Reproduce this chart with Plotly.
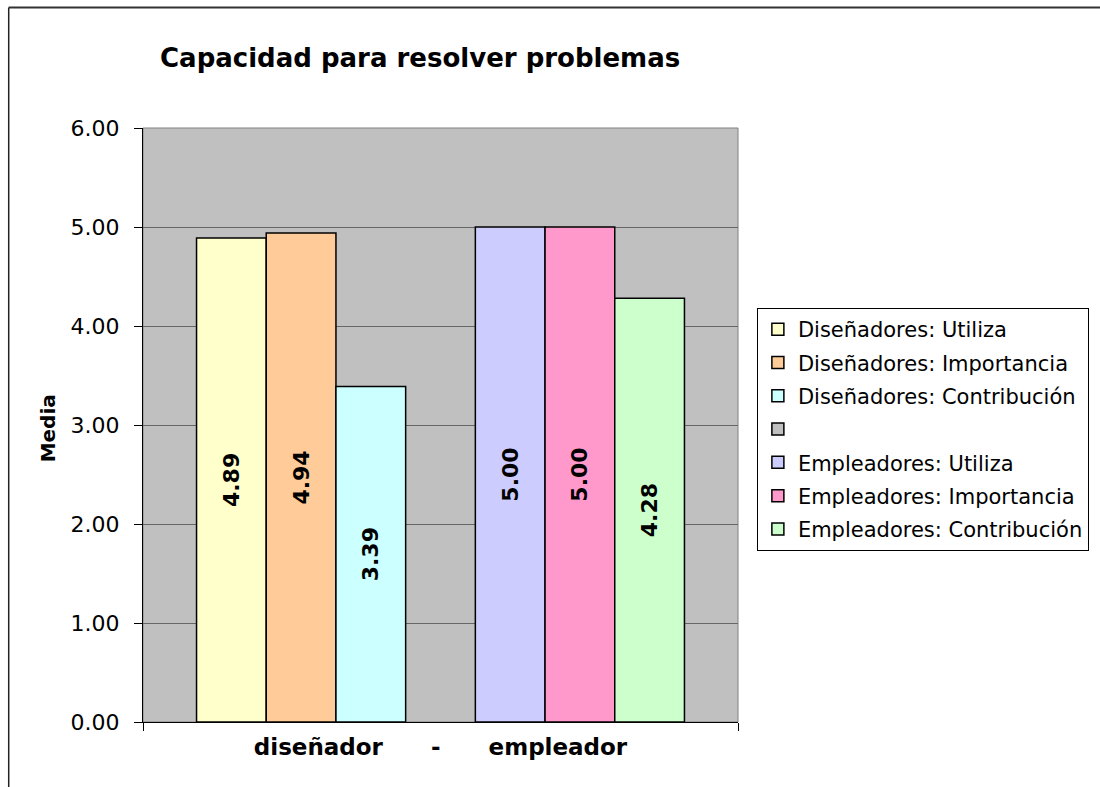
"""Capacidad para resolver problemas - grouped bar chart."""

import plotly.graph_objects as go

CATEGORIES = ["diseñador" + "\u00a0" * 6 + "-" + "\u00a0" * 6 + "empleador"]

SERIES_NAMES = [
    "Diseñadores: Utiliza",
    "Diseñadores: Importancia",
    "Diseñadores: Contribución",
    " ",
    "Empleadores: Utiliza",
    "Empleadores: Importancia",
    "Empleadores: Contribución",
]
SERIES_VALUES = [4.89, 4.94, 3.39, None, 5.00, 5.00, 4.28]
SERIES_COLORS = [
    "#FFFFCC",
    "#FFCC99",
    "#CCFFFF",
    "#C0C0C0",
    "#CCCCFF",
    "#FF99CC",
    "#CCFFCC",
]

Y_TICKS = [0, 1, 2, 3, 4, 5, 6]

FONT = "DejaVu Sans, Liberation Sans, Arial, sans-serif"

# plot area in pixels: x 143..739, y 128..722
fig = go.Figure()

for i, (name, value, color) in enumerate(zip(SERIES_NAMES, SERIES_VALUES, SERIES_COLORS)):
    fig.add_trace(
        go.Bar(
            x=CATEGORIES,
            y=[value],
            name=name,
            legendgroup=f"g{i}",
            marker=dict(color=color, line=dict(color="black", width=1.5)),
            text=[f"{value:.2f}" if value is not None else ""],
            textposition="inside",
            insidetextanchor="middle",
            textangle=-90,
            textfont=dict(family=FONT, size=22, color="black", weight="bold"),
            hoverinfo="skip",
        )
    )

fig.update_layout(
    width=1100,
    height=787,
    margin=dict(l=143, r=361, t=128, b=65),
    paper_bgcolor="white",
    plot_bgcolor="#C0C0C0",
    barmode="group",
    bargap=0.18,
    bargroupgap=0,
    font=dict(family=FONT, color="black"),
    showlegend=True,
    legend=dict(
        x=1.03,
        xanchor="left",
        y=0.697,
        yanchor="top",
        bgcolor="white",
        bordercolor="black",
        borderwidth=1,
        font=dict(family=FONT, size=21, color="black"),
        tracegroupgap=3,
        traceorder="grouped",
    ),
    xaxis=dict(
        showline=True,
        linecolor="black",
        linewidth=1,
        ticks="outside",
        tickson="boundaries",
        ticklen=8,
        tickcolor="black",
        tickfont=dict(family=FONT, size=23, color="black", weight="bold"),
        ticklabelstandoff=4,
        showgrid=False,
        fixedrange=True,
    ),
    yaxis=dict(
        range=[0, 6],
        tickvals=Y_TICKS,
        tickformat=".2f",
        showline=True,
        linecolor="black",
        linewidth=1,
        ticks="outside",
        ticklen=8,
        tickcolor="black",
        tickfont=dict(family=FONT, size=22, color="black"),
        ticklabelstandoff=10,
        showgrid=True,
        gridcolor="#666666",
        gridwidth=1,
        zeroline=False,
        fixedrange=True,
    ),
    annotations=[
        dict(
            text="<b>Capacidad para resolver problemas</b>",
            xref="paper",
            yref="paper",
            x=0.465,
            y=1.118,
            xanchor="center",
            yanchor="middle",
            showarrow=False,
            font=dict(family=FONT, size=26, color="black"),
        ),
        dict(
            text="<b>Media</b>",
            xref="paper",
            yref="paper",
            x=-0.159,
            y=0.495,
            xanchor="center",
            yanchor="middle",
            textangle=-90,
            showarrow=False,
            font=dict(family=FONT, size=20, color="black"),
        ),
    ],
    shapes=[
        # plot area border
        dict(
            type="rect",
            xref="paper",
            yref="paper",
            x0=0,
            x1=1,
            y0=0,
            y1=1,
            line=dict(color="#808080", width=1),
            layer="below",
        ),
        # chart frame (top and left edges visible)
        dict(
            type="line",
            xref="paper",
            yref="paper",
            x0=-0.2257,
            x1=1.7,
            y0=1.2029,
            y1=1.2029,
            line=dict(color="#333333", width=2),
        ),
        dict(
            type="line",
            xref="paper",
            yref="paper",
            x0=-0.2257,
            x1=-0.2257,
            y0=1.2029,
            y1=-0.2,
            line=dict(color="#222222", width=1.5),
        ),
    ],
)

# the page body has a default 8px margin; drop it so the chart sits at 0,0
fig.write_html(
    "out.html",
    config={"displayModeBar": False},
    post_script="document.body.style.margin = '0';",
)
